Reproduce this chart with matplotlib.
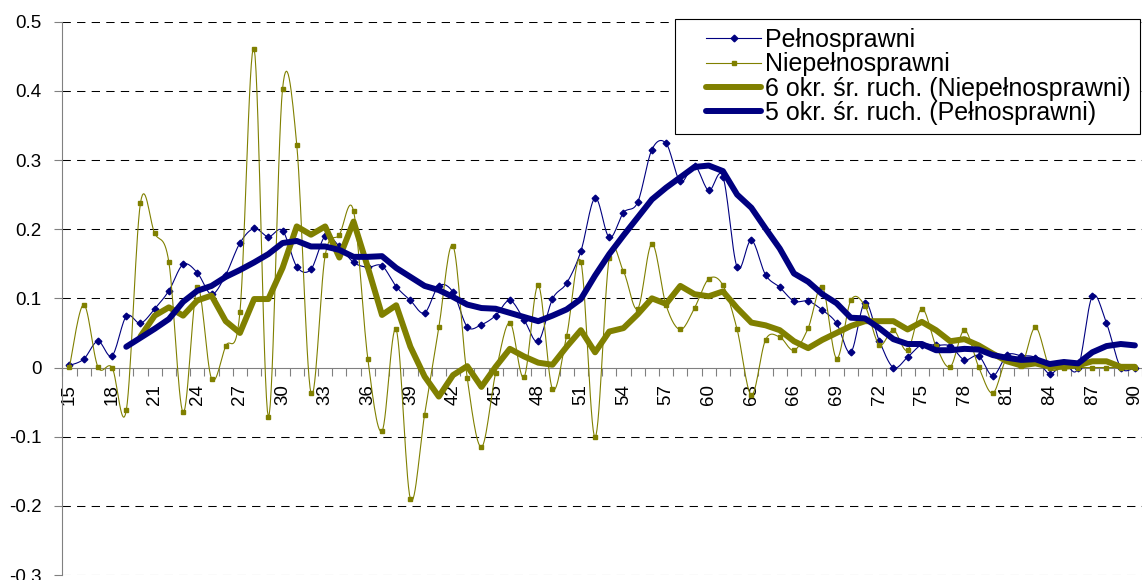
import numpy as np
import matplotlib
matplotlib.use('Agg')
import matplotlib.pyplot as plt
from matplotlib.legend_handler import HandlerLine2D

plt.rcParams['font.family'] = ['Liberation Sans', 'DejaVu Sans']

ages = list(range(15, 91))

# Pełnosprawni (odczyt z wykresu), wiek 15..90
pelno = [0.003, 0.012, 0.038, 0.017, 0.074, 0.064, 0.085, 0.111, 0.149, 0.137,
         0.106, 0.134, 0.180, 0.201, 0.189, 0.198, 0.146, 0.142, 0.190, 0.175,
         0.152, 0.145, 0.147, 0.117, 0.097, 0.079, 0.118, 0.109, 0.059, 0.062,
         0.075, 0.097, 0.069, 0.038, 0.099, 0.122, 0.168, 0.245, 0.188, 0.224,
         0.239, 0.315, 0.324, 0.269, 0.292, 0.256, 0.276, 0.145, 0.184, 0.134,
         0.116, 0.096, 0.096, 0.083, 0.064, 0.022, 0.094, 0.039, 0.000, 0.015,
         0.033, 0.032, 0.031, 0.011, 0.017, -0.012, 0.018, 0.017, 0.014, -0.009,
         0.006, -0.001, 0.103, 0.064, 0.000, 0.000]

# Niepełnosprawni, wiek 15..90
niepelno = [0.001, 0.091, 0.001, 0.000, -0.062, 0.238, 0.194, 0.152, -0.065, 0.116,
            -0.016, 0.031, 0.080, 0.461, -0.071, 0.403, 0.322, -0.037, 0.162, 0.192,
            0.226, 0.013, -0.092, 0.055, -0.190, -0.068, 0.058, 0.176, -0.015, -0.115,
            -0.008, 0.065, -0.014, 0.119, -0.031, 0.046, 0.153, -0.101, 0.159, 0.139,
            0.085, 0.179, 0.090, 0.055, 0.086, 0.128, 0.119, 0.055, -0.040, 0.040,
            0.044, 0.025, 0.057, 0.117, 0.013, 0.097, 0.089, 0.033, 0.054, 0.025,
            0.085, 0.031, 0.001, 0.054, 0.001, -0.037, 0.014, 0.002, 0.058, 0.000,
            0.000, 0.000, 0.000, 0.000, 0.000, 0.000]

# średnia ruchoma 5 okr. (Pełnosprawni), wiek 19..90
ma5_ages = list(range(19, 91))
ma5_pelno = [0.030, 0.043, 0.056, 0.070, 0.095, 0.111, 0.118, 0.131, 0.141, 0.152,
             0.164, 0.180, 0.183, 0.175, 0.175, 0.170, 0.160, 0.160, 0.161, 0.144,
             0.131, 0.118, 0.112, 0.102, 0.091, 0.086, 0.085, 0.079, 0.073, 0.067,
             0.075, 0.084, 0.099, 0.133, 0.164, 0.191, 0.217, 0.243, 0.260, 0.275,
             0.290, 0.292, 0.284, 0.250, 0.231, 0.201, 0.172, 0.136, 0.124, 0.106,
             0.093, 0.072, 0.071, 0.057, 0.041, 0.034, 0.034, 0.025, 0.025, 0.027,
             0.026, 0.018, 0.014, 0.011, 0.012, 0.005, 0.008, 0.006, 0.022, 0.031,
             0.034, 0.032]

# średnia ruchoma 6 okr. (Niepełnosprawni), wiek 20..90
ma6_ages = list(range(20, 91))
ma6_niepelno = [0.045, 0.075, 0.087, 0.075, 0.097, 0.104, 0.067, 0.050, 0.099, 0.099,
                0.144, 0.204, 0.192, 0.204, 0.159, 0.211, 0.145, 0.076, 0.090, 0.030,
                -0.013, -0.042, -0.011, 0.002, -0.028, 0.001, 0.027, 0.016, 0.007, 0.004,
                0.030, 0.054, 0.022, 0.052, 0.057, 0.077, 0.100, 0.092, 0.118, 0.106,
                0.103, 0.110, 0.086, 0.065, 0.061, 0.054, 0.038, 0.028, 0.040, 0.050,
                0.060, 0.067, 0.067, 0.067, 0.055, 0.066, 0.054, 0.038, 0.041, 0.032,
                0.020, 0.009, 0.003, 0.006, 0.001, 0.001, 0.003, 0.009, 0.009, 0.001,
                0.001]

NAVY = '#000080'
OLIVE = '#808000'


def smooth(x, y, n=16):
    # wygładzanie jak w Excelu (krzywe Beziera przez punkty)
    p = np.column_stack([x, y]).astype(float)
    out = [p[0]]
    t = np.linspace(0, 1, n)[1:, None]
    for i in range(len(p) - 1):
        p0 = p[i - 1] if i > 0 else p[i]
        p1, p2 = p[i], p[i + 1]
        p3 = p[i + 2] if i + 2 < len(p) else p[i + 1]
        c1 = p1 + (p2 - p0) / 6
        c2 = p2 - (p3 - p1) / 6
        seg = ((1 - t) ** 3) * p1 + 3 * ((1 - t) ** 2) * t * c1 + 3 * (1 - t) * t ** 2 * c2 + t ** 3 * p2
        out.extend(seg)
    out = np.array(out)
    return out[:, 0], out[:, 1]


fig = plt.figure(figsize=(11.42, 5.8), dpi=100)
ax = fig.add_axes([0.0546, 0.0086, 0.9454, 0.954])

# cienkie linie wygładzone + znaczniki
sx, sy = smooth(ages, pelno)
ax.plot(sx, sy, color=NAVY, lw=0.8, zorder=3)
ax.plot(ages, pelno, ls='none', marker='D', ms=3.4, color=NAVY, zorder=3)
sx, sy = smooth(ages, niepelno)
ax.plot(sx, sy, color=OLIVE, lw=0.8, zorder=3)
ax.plot(ages, niepelno, ls='none', marker='s', ms=2.6, color=OLIVE, zorder=3)

# średnie ruchome
ax.plot(ma6_ages, ma6_niepelno, color=OLIVE, lw=4.3, solid_joinstyle='round',
        solid_capstyle='round', zorder=4)
ax.plot(ma5_ages, ma5_pelno, color=NAVY, lw=4.3, solid_joinstyle='round',
        solid_capstyle='round', zorder=5)

ax.set_xlim(14.5, 90.5)
ax.set_ylim(-0.3, 0.5)
ax.set_yticks(np.arange(-0.3, 0.51, 0.1))
ax.set_yticklabels(['-0.3', '-0.2', '-0.1', '0', '0.1', '0.2', '0.3', '0.4', '0.5'])
ax.set_xticks(range(15, 91, 3))
ax.set_xticks(np.arange(14.5, 91, 1), minor=True)

for y in [-0.3, -0.2, -0.1, 0.1, 0.2, 0.3, 0.4, 0.5]:
    ax.axhline(y, color='black', lw=0.75, ls=(0, (8, 6)), zorder=1)

for s in ['top', 'right']:
    ax.spines[s].set_visible(False)
ax.spines['bottom'].set_position(('data', 0))
ax.spines['bottom'].set_color('#808080')
ax.spines['left'].set_color('#808080')
ax.spines['bottom'].set_zorder(2)

ax.tick_params(axis='y', direction='out', length=6, width=0.8, color='#808080',
               pad=9, labelsize=13.5)
ax.tick_params(axis='x', which='major', length=0, pad=12, labelsize=13.5,
               labelrotation=90)
ax.tick_params(axis='x', which='minor', direction='out', length=6, width=0.8,
               color='#808080')

# legenda
h1, = ax.plot([], [], color=NAVY, lw=0.8, marker='D', ms=3.4)
h2, = ax.plot([], [], color=OLIVE, lw=0.8, marker='s', ms=2.6)
h3, = ax.plot([], [], color=OLIVE, lw=4.3, solid_capstyle='round')
h4, = ax.plot([], [], color=NAVY, lw=4.3, solid_capstyle='round')
leg = ax.legend([h1, h2, h3, h4],
                ['Pełnosprawni', 'Niepełnosprawni',
                 '6 okr. śr. ruch. (Niepełnosprawni)', '5 okr. śr. ruch. (Pełnosprawni)'],
                loc='upper right', bbox_to_anchor=(0.998, 1.004), fontsize=18,
                frameon=True, fancybox=False, edgecolor='black', framealpha=1,
                borderpad=0.35, labelspacing=0.01, handlelength=3.1,
                handletextpad=0.16, borderaxespad=0,
                handler_map={h: HandlerLine2D(xpad=0.9, numpoints=1) for h in [h1, h2, h3, h4]})
leg.get_frame().set_linewidth(0.8)
leg.set_zorder(10)

plt.savefig('out.png', dpi=100)
